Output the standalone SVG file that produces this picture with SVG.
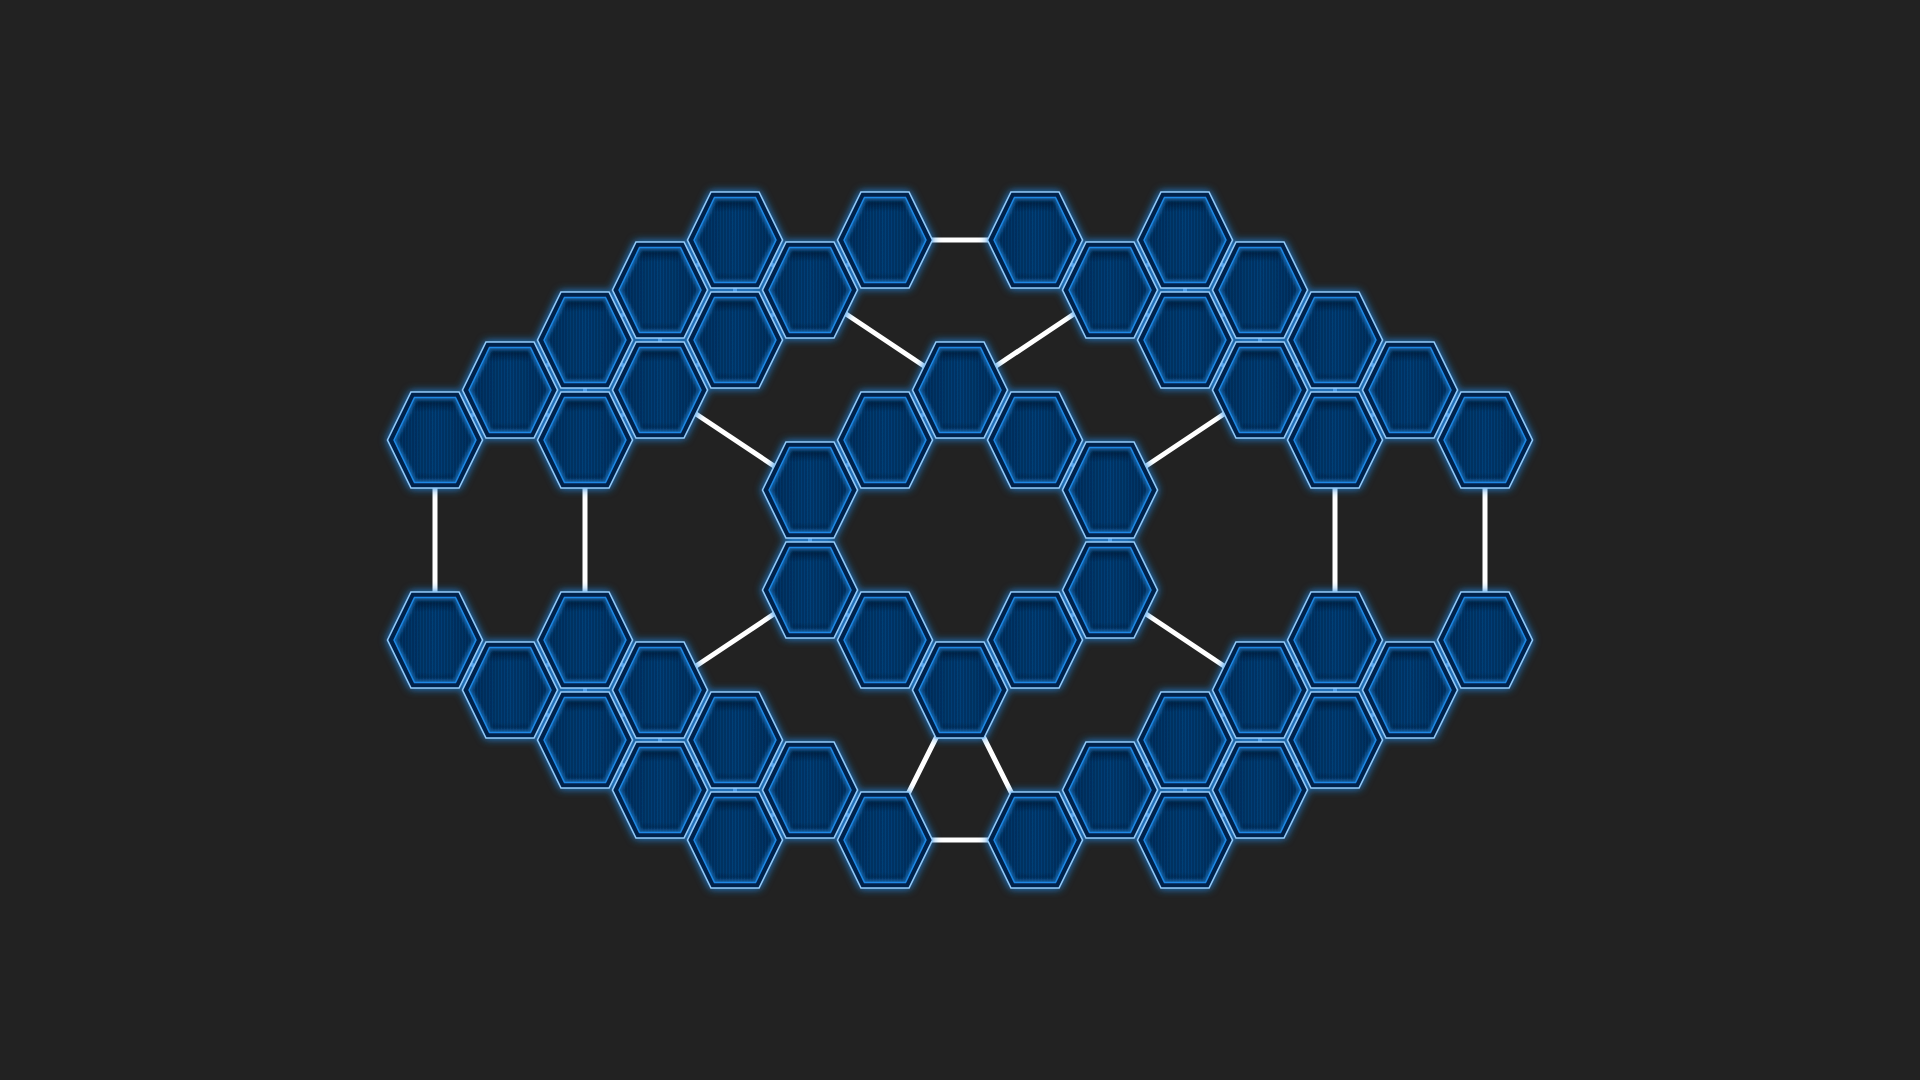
<svg xmlns="http://www.w3.org/2000/svg" xmlns:xlink="http://www.w3.org/1999/xlink" width="1920" height="1080" viewBox="0 0 1920 1080">
<style>
.link{stroke:#ffffff;stroke-width:5;fill:none}
.joint{stroke:#dfeaff;stroke-width:4;fill:none}
</style>
<defs>
<pattern id="stripes" patternUnits="userSpaceOnUse" width="3" height="8">
<rect width="3" height="8" fill="#003466"/>
<rect width="1" height="8" fill="#0b4c8c" opacity="0.5"/>
</pattern>
<linearGradient id="shade" x1="0" y1="0" x2="0" y2="1">
<stop offset="0" stop-color="#001228" stop-opacity="0.85"/>
<stop offset="0.17" stop-color="#001228" stop-opacity="0"/>
<stop offset="0.88" stop-color="#001228" stop-opacity="0"/>
<stop offset="1" stop-color="#001228" stop-opacity="0.5"/>
</linearGradient>
<linearGradient id="sideShade" x1="0" y1="0" x2="1" y2="0">
<stop offset="0" stop-color="#001a38" stop-opacity="0.4"/>
<stop offset="0.5" stop-color="#001a38" stop-opacity="0"/>
<stop offset="1" stop-color="#001a38" stop-opacity="0.4"/>
</linearGradient>
<filter id="soft" x="-20%" y="-20%" width="140%" height="140%"><feGaussianBlur stdDeviation="1.6"/></filter>
<filter id="nodeGlow" filterUnits="userSpaceOnUse" x="0" y="0" width="1920" height="1080">
<feGaussianBlur in="SourceAlpha" stdDeviation="4.5" result="b"/>
<feFlood flood-color="#1e88e5" flood-opacity="1"/>
<feComposite in2="b" operator="in" result="g"/>
<feMerge><feMergeNode in="g"/><feMergeNode in="SourceGraphic"/></feMerge>
</filter>
<clipPath id="innerClip"><polygon points="-41,0 -20.5,-42.5 20.5,-42.5 41,0 20.5,42.5 -20.5,42.5"/></clipPath>
<g id="hex">
<polygon points="-47.5,0 -24,-48 24,-48 47.5,0 24,48 -24,48" fill="#00224c" stroke="#90caf9" stroke-width="1.6"/>
<polygon points="-41,0 -20.5,-42.5 20.5,-42.5 41,0 20.5,42.5 -20.5,42.5" fill="url(#stripes)"/>
<polygon points="-41,0 -20.5,-42.5 20.5,-42.5 41,0 20.5,42.5 -20.5,42.5" fill="url(#sideShade)"/>
<polygon points="-41,0 -20.5,-42.5 20.5,-42.5 41,0 20.5,42.5 -20.5,42.5" fill="url(#shade)"/>
<polygon points="-41,0 -20.5,-42.5 20.5,-42.5 41,0 20.5,42.5 -20.5,42.5" fill="none" stroke="#2196f3" stroke-width="6" opacity="0.5" clip-path="url(#innerClip)" filter="url(#soft)"/>
<polygon points="-41,0 -20.5,-42.5 20.5,-42.5 41,0 20.5,42.5 -20.5,42.5" fill="none" stroke="#1e88e5" stroke-width="1.5"/>
</g>
</defs>
<rect width="1920" height="1080" fill="#222222"/>
<g id="connectors">
<line class="link" x1="435" y1="485" x2="435" y2="595"/>
<line class="link" x1="585" y1="485" x2="585" y2="595"/>
<line class="link" x1="1335" y1="485" x2="1335" y2="595"/>
<line class="link" x1="1485" y1="485" x2="1485" y2="595"/>
<line class="link" x1="930" y1="240" x2="990" y2="240"/>
<line class="link" x1="930" y1="840" x2="990" y2="840"/>
<line class="link" x1="937.3" y1="735.3" x2="907.7" y2="794.7"/>
<line class="link" x1="982.7" y1="735.3" x2="1012.3" y2="794.7"/>
<line class="link" x1="843.8" y1="312.5" x2="926.2" y2="367.5"/>
<line class="link" x1="1076.2" y1="312.5" x2="993.8" y2="367.5"/>
<line class="link" x1="693.8" y1="412.5" x2="776.2" y2="467.5"/>
<line class="link" x1="1226.2" y1="412.5" x2="1143.8" y2="467.5"/>
<line class="link" x1="693.8" y1="667.5" x2="776.2" y2="612.5"/>
<line class="link" x1="1226.2" y1="667.5" x2="1143.8" y2="612.5"/>
<line class="joint" x1="585" y1="384" x2="585" y2="396"/>
<line class="joint" x1="585" y1="684" x2="585" y2="696"/>
<line class="joint" x1="660" y1="334" x2="660" y2="346"/>
<line class="joint" x1="660" y1="734" x2="660" y2="746"/>
<line class="joint" x1="735" y1="284" x2="735" y2="296"/>
<line class="joint" x1="735" y1="784" x2="735" y2="796"/>
<line class="joint" x1="810" y1="534" x2="810" y2="546"/>
<line class="joint" x1="1110" y1="534" x2="1110" y2="546"/>
<line class="joint" x1="1185" y1="284" x2="1185" y2="296"/>
<line class="joint" x1="1185" y1="784" x2="1185" y2="796"/>
<line class="joint" x1="1260" y1="334" x2="1260" y2="346"/>
<line class="joint" x1="1260" y1="734" x2="1260" y2="746"/>
<line class="joint" x1="1335" y1="384" x2="1335" y2="396"/>
<line class="joint" x1="1335" y1="684" x2="1335" y2="696"/>
<line class="joint" x1="467.5" y1="418.3" x2="477.5" y2="411.7"/>
<line class="joint" x1="467.5" y1="661.7" x2="477.5" y2="668.3"/>
<line class="joint" x1="542.5" y1="368.3" x2="552.5" y2="361.7"/>
<line class="joint" x1="542.5" y1="411.7" x2="552.5" y2="418.3"/>
<line class="joint" x1="542.5" y1="668.3" x2="552.5" y2="661.7"/>
<line class="joint" x1="542.5" y1="711.7" x2="552.5" y2="718.3"/>
<line class="joint" x1="617.5" y1="318.3" x2="627.5" y2="311.7"/>
<line class="joint" x1="617.5" y1="361.7" x2="627.5" y2="368.3"/>
<line class="joint" x1="617.5" y1="418.3" x2="627.5" y2="411.7"/>
<line class="joint" x1="617.5" y1="661.7" x2="627.5" y2="668.3"/>
<line class="joint" x1="617.5" y1="718.3" x2="627.5" y2="711.7"/>
<line class="joint" x1="617.5" y1="761.7" x2="627.5" y2="768.3"/>
<line class="joint" x1="692.5" y1="268.3" x2="702.5" y2="261.7"/>
<line class="joint" x1="692.5" y1="311.7" x2="702.5" y2="318.3"/>
<line class="joint" x1="692.5" y1="368.3" x2="702.5" y2="361.7"/>
<line class="joint" x1="692.5" y1="711.7" x2="702.5" y2="718.3"/>
<line class="joint" x1="692.5" y1="768.3" x2="702.5" y2="761.7"/>
<line class="joint" x1="692.5" y1="811.7" x2="702.5" y2="818.3"/>
<line class="joint" x1="767.5" y1="261.7" x2="777.5" y2="268.3"/>
<line class="joint" x1="767.5" y1="318.3" x2="777.5" y2="311.7"/>
<line class="joint" x1="767.5" y1="761.7" x2="777.5" y2="768.3"/>
<line class="joint" x1="767.5" y1="818.3" x2="777.5" y2="811.7"/>
<line class="joint" x1="842.5" y1="268.3" x2="852.5" y2="261.7"/>
<line class="joint" x1="842.5" y1="468.3" x2="852.5" y2="461.7"/>
<line class="joint" x1="842.5" y1="611.7" x2="852.5" y2="618.3"/>
<line class="joint" x1="842.5" y1="811.7" x2="852.5" y2="818.3"/>
<line class="joint" x1="917.5" y1="418.3" x2="927.5" y2="411.7"/>
<line class="joint" x1="917.5" y1="661.7" x2="927.5" y2="668.3"/>
<line class="joint" x1="992.5" y1="411.7" x2="1002.5" y2="418.3"/>
<line class="joint" x1="992.5" y1="668.3" x2="1002.5" y2="661.7"/>
<line class="joint" x1="1067.5" y1="261.7" x2="1077.5" y2="268.3"/>
<line class="joint" x1="1067.5" y1="461.7" x2="1077.5" y2="468.3"/>
<line class="joint" x1="1067.5" y1="618.3" x2="1077.5" y2="611.7"/>
<line class="joint" x1="1067.5" y1="818.3" x2="1077.5" y2="811.7"/>
<line class="joint" x1="1142.5" y1="268.3" x2="1152.5" y2="261.7"/>
<line class="joint" x1="1142.5" y1="311.7" x2="1152.5" y2="318.3"/>
<line class="joint" x1="1142.5" y1="768.3" x2="1152.5" y2="761.7"/>
<line class="joint" x1="1142.5" y1="811.7" x2="1152.5" y2="818.3"/>
<line class="joint" x1="1217.5" y1="261.7" x2="1227.5" y2="268.3"/>
<line class="joint" x1="1217.5" y1="318.3" x2="1227.5" y2="311.7"/>
<line class="joint" x1="1217.5" y1="361.7" x2="1227.5" y2="368.3"/>
<line class="joint" x1="1217.5" y1="718.3" x2="1227.5" y2="711.7"/>
<line class="joint" x1="1217.5" y1="761.7" x2="1227.5" y2="768.3"/>
<line class="joint" x1="1217.5" y1="818.3" x2="1227.5" y2="811.7"/>
<line class="joint" x1="1292.5" y1="311.7" x2="1302.5" y2="318.3"/>
<line class="joint" x1="1292.5" y1="368.3" x2="1302.5" y2="361.7"/>
<line class="joint" x1="1292.5" y1="411.7" x2="1302.5" y2="418.3"/>
<line class="joint" x1="1292.5" y1="668.3" x2="1302.5" y2="661.7"/>
<line class="joint" x1="1292.5" y1="711.7" x2="1302.5" y2="718.3"/>
<line class="joint" x1="1292.5" y1="768.3" x2="1302.5" y2="761.7"/>
<line class="joint" x1="1367.5" y1="361.7" x2="1377.5" y2="368.3"/>
<line class="joint" x1="1367.5" y1="418.3" x2="1377.5" y2="411.7"/>
<line class="joint" x1="1367.5" y1="661.7" x2="1377.5" y2="668.3"/>
<line class="joint" x1="1367.5" y1="718.3" x2="1377.5" y2="711.7"/>
<line class="joint" x1="1442.5" y1="411.7" x2="1452.5" y2="418.3"/>
<line class="joint" x1="1442.5" y1="668.3" x2="1452.5" y2="661.7"/>
</g>
<g id="nodes" filter="url(#nodeGlow)">
<g id="h0-440" transform="translate(435,440)"><use xlink:href="#hex"/></g>
<g id="h0-640" transform="translate(435,640)"><use xlink:href="#hex"/></g>
<g id="h1-390" transform="translate(510,390)"><use xlink:href="#hex"/></g>
<g id="h1-690" transform="translate(510,690)"><use xlink:href="#hex"/></g>
<g id="h2-340" transform="translate(585,340)"><use xlink:href="#hex"/></g>
<g id="h2-440" transform="translate(585,440)"><use xlink:href="#hex"/></g>
<g id="h2-640" transform="translate(585,640)"><use xlink:href="#hex"/></g>
<g id="h2-740" transform="translate(585,740)"><use xlink:href="#hex"/></g>
<g id="h3-290" transform="translate(660,290)"><use xlink:href="#hex"/></g>
<g id="h3-390" transform="translate(660,390)"><use xlink:href="#hex"/></g>
<g id="h3-690" transform="translate(660,690)"><use xlink:href="#hex"/></g>
<g id="h3-790" transform="translate(660,790)"><use xlink:href="#hex"/></g>
<g id="h4-240" transform="translate(735,240)"><use xlink:href="#hex"/></g>
<g id="h4-340" transform="translate(735,340)"><use xlink:href="#hex"/></g>
<g id="h4-740" transform="translate(735,740)"><use xlink:href="#hex"/></g>
<g id="h4-840" transform="translate(735,840)"><use xlink:href="#hex"/></g>
<g id="h5-290" transform="translate(810,290)"><use xlink:href="#hex"/></g>
<g id="h5-490" transform="translate(810,490)"><use xlink:href="#hex"/></g>
<g id="h5-590" transform="translate(810,590)"><use xlink:href="#hex"/></g>
<g id="h5-790" transform="translate(810,790)"><use xlink:href="#hex"/></g>
<g id="h6-240" transform="translate(885,240)"><use xlink:href="#hex"/></g>
<g id="h6-440" transform="translate(885,440)"><use xlink:href="#hex"/></g>
<g id="h6-640" transform="translate(885,640)"><use xlink:href="#hex"/></g>
<g id="h6-840" transform="translate(885,840)"><use xlink:href="#hex"/></g>
<g id="h7-390" transform="translate(960,390)"><use xlink:href="#hex"/></g>
<g id="h7-690" transform="translate(960,690)"><use xlink:href="#hex"/></g>
<g id="h8-240" transform="translate(1035,240)"><use xlink:href="#hex"/></g>
<g id="h8-440" transform="translate(1035,440)"><use xlink:href="#hex"/></g>
<g id="h8-640" transform="translate(1035,640)"><use xlink:href="#hex"/></g>
<g id="h8-840" transform="translate(1035,840)"><use xlink:href="#hex"/></g>
<g id="h9-290" transform="translate(1110,290)"><use xlink:href="#hex"/></g>
<g id="h9-490" transform="translate(1110,490)"><use xlink:href="#hex"/></g>
<g id="h9-590" transform="translate(1110,590)"><use xlink:href="#hex"/></g>
<g id="h9-790" transform="translate(1110,790)"><use xlink:href="#hex"/></g>
<g id="h10-240" transform="translate(1185,240)"><use xlink:href="#hex"/></g>
<g id="h10-340" transform="translate(1185,340)"><use xlink:href="#hex"/></g>
<g id="h10-740" transform="translate(1185,740)"><use xlink:href="#hex"/></g>
<g id="h10-840" transform="translate(1185,840)"><use xlink:href="#hex"/></g>
<g id="h11-290" transform="translate(1260,290)"><use xlink:href="#hex"/></g>
<g id="h11-390" transform="translate(1260,390)"><use xlink:href="#hex"/></g>
<g id="h11-690" transform="translate(1260,690)"><use xlink:href="#hex"/></g>
<g id="h11-790" transform="translate(1260,790)"><use xlink:href="#hex"/></g>
<g id="h12-340" transform="translate(1335,340)"><use xlink:href="#hex"/></g>
<g id="h12-440" transform="translate(1335,440)"><use xlink:href="#hex"/></g>
<g id="h12-640" transform="translate(1335,640)"><use xlink:href="#hex"/></g>
<g id="h12-740" transform="translate(1335,740)"><use xlink:href="#hex"/></g>
<g id="h13-390" transform="translate(1410,390)"><use xlink:href="#hex"/></g>
<g id="h13-690" transform="translate(1410,690)"><use xlink:href="#hex"/></g>
<g id="h14-440" transform="translate(1485,440)"><use xlink:href="#hex"/></g>
<g id="h14-640" transform="translate(1485,640)"><use xlink:href="#hex"/></g>
</g>
</svg>
